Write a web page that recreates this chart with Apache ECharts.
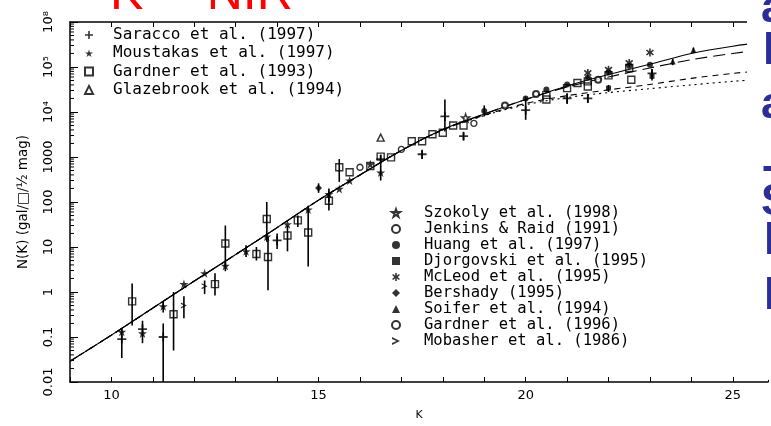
<!DOCTYPE html>
<html>
<head>
<meta charset="utf-8">
<script src="https://cdn.jsdelivr.net/npm/echarts@6/dist/echarts.min.js"></script>
<style>
  html, body { margin: 0; padding: 0; background: #fff; }
  #chart { width: 771px; height: 426px; }
</style>
</head>
<body>
<div id="chart"></div>
<script>
// K grid for the model curves
const modelK = [9, 10, 11, 12, 13, 14, 15, 16, 17, 18, 19, 20, 21, 22, 23, 24, 25, 26];
const modelSolid = [0.029, 0.11, 0.44, 1.75, 6.8, 27, 110, 400, 1400, 4100, 9000, 19000, 38000, 68000, 115000, 200000, 290000, 380000];
const modelLongDash = [0.029, 0.11, 0.44, 1.75, 6.8, 27, 110, 400, 1400, 4100, 9000, 19000, 36000, 60000, 95000, 145000, 200000, 260000];
const modelDash = [0.029, 0.11, 0.44, 1.75, 6.8, 27, 110, 400, 1400, 4000, 8500, 15500, 23000, 31000, 41000, 56000, 72000, 88000];
const modelDot = [0.029, 0.11, 0.44, 1.75, 6.8, 27, 110, 400, 1400, 4000, 8300, 14500, 21000, 27000, 33000, 40000, 48000, 56000];

// survey counts: [K, N, errLow, errHigh]
const saracco = [[10.25, 0.09, 0.034, 0.155], [10.75, 0.15, 0.073, 0.23], [11.25, 0.1, 0.01, 0.2], [14.0, 14, 9, 20],
  [16.5, 900, 700, 1100], [17.5, 1150, 900, 1400], [18.05, 8000, 3700, 19000], [18.5, 2900, 2400, 3500],
  [20.0, 11000, 6700, 22000], [21.0, 20000, 15000, 26000], [21.5, 20000, 16000, 25000], [23.05, 72000, 55000, 90000]];
const moustakas = [[10.25, 0.13, null, null], [10.75, 0.12, null, null], [11.25, 0.48, 0.35, 0.6], [11.75, 1.5, null, null],
  [12.25, 2.6, null, null], [12.75, 3.8, 2.9, 5], [13.25, 8, 6, 11], [13.75, 17, null, null], [14.25, 32, null, null],
  [14.75, 68, null, null], [15.25, 150, 100, 200], [15.5, 195, null, null], [15.75, 300, null, null], [16.25, 690, null, null],
  [16.5, 450, 300, 700]];
const gardner93 = [[10.5, 0.62, 0.18, 1.55], [11.5, 0.32, 0.05, 1.0], [12.5, 1.5, 0.84, 2.6], [12.75, 12, 3.9, 30],
  [13.5, 7, 5, 10], [13.75, 42, 13, 100], [13.78, 6, 1.1, 17], [14.25, 18, 8, 30], [14.5, 39, 28, 50], [14.75, 21, 3.7, 83],
  [15.25, 107, 65, 150], [15.5, 590, 280, 900], [15.75, 460, null, null], [16.25, 630, null, null], [16.5, 1020, null, null],
  [16.75, 980, null, null], [17.25, 2240, null, null], [17.5, 2240, null, null], [17.75, 3200, null, null], [18.0, 3450, null, null],
  [18.25, 5000, null, null], [18.5, 5000, null, null], [20.5, 19000, null, null], [20.5, 24000, null, null],
  [21.0, 34000, null, null], [21.25, 44000, null, null], [21.5, 48000, null, null], [21.5, 37000, null, null],
  [22.0, 65000, null, null], [22.5, 95000, null, null], [22.55, 52000, null, null]];
const glazebrook = [[16.5, 2700, null, null]];
const szokoly = [[18.55, 7400, null, null]];
const jenkins = [[16.0, 590, null, null], [17.0, 1480, null, null], [18.75, 5600, null, null]];
const huang = [[19.0, 10500, 8000, 14000], [20.0, 20000, null, null], [20.5, 31600, null, null], [21.0, 41000, null, null],
  [21.5, 58000, null, null], [22.0, 75000, null, null], [22.5, 105000, null, null], [23.0, 112000, null, null]];
const djorgovski = [[22.0, 34000, 28000, 40000], [23.05, 62000, 50000, 80000]];
const mcleod = [[21.5, 74000, null, null], [22.0, 87000, null, null], [22.5, 123000, null, null], [23.0, 210000, null, null]];
const bershady = [[15.0, 205, 160, 260]];
const soifer = [[23.55, 132000, 110000, 150000], [24.05, 240000, 210000, 270000]];
const gardner96 = [[19.5, 14000, null, null], [20.25, 25000, null, null], [21.75, 52000, null, null]];
const mobasher = [[11.75, 0.5, 0.26, 0.8], [12.25, 1.35, 0.9, 1.8]];

const xTickLabels = [10, 15, 20, 25];
const yTickLabels = ['0.01', '0.1', '1', '10', '100', '1000', '10⁴', '10⁵', '10⁸'];

const FONT = 'DejaVu Sans';
const MONO = 'DejaVu Sans Mono';

const SYM = {
  plus: 'path://M4,0H6V4H10V6H6V10H4V6H0V4H4Z',
  star: 'path://M5,0L6.2,3.6L10,3.6L6.9,5.9L8.1,9.5L5,7.3L1.9,9.5L3.1,5.9L0,3.6L3.8,3.6Z',
  asterisk: 'path://M4,0H6V3.3L8.6,1.1L9.9,2.5L7.2,5L9.9,7.5L8.6,8.9L6,6.7V10H4V6.7L1.4,8.9L0.1,7.5L2.8,5L0.1,2.5L1.4,1.1L4,3.3Z',
  chevron: 'path://M0,0L10,5L0,10L0,7.6L5.6,5L0,2.4Z',
  crossDiamond: 'path://M5,0L10,5L5,10L0,5Z'
};

const hollow = { color: 'rgba(255,255,255,0)', borderColor: '#000', borderWidth: 1.4 };
const solidFill = { color: '#000' };

function scatter(name, data, symbol, size, style) {
  return {
    name: name,
    type: 'scatter',
    data: data.map(p => [p[0], p[1]]),
    symbol: symbol,
    symbolSize: size,
    itemStyle: style,
    z: 3,
    silent: true
  };
}

const surveys = [
  ['Saracco et al. (1997)', saracco, SYM.plus, 9, solidFill],
  ['Moustakas et al. (1997)', moustakas, SYM.star, 9, solidFill],
  ['Gardner et al. (1993)', gardner93, 'rect', 7, hollow],
  ['Glazebrook et al. (1994)', glazebrook, 'triangle', 7, hollow],
  ['Szokoly et al. (1998)', szokoly, SYM.star, 8, hollow],
  ['Jenkins & Raid (1991)', jenkins, 'circle', 6, hollow],
  ['Huang et al. (1997)', huang, 'circle', 6, solidFill],
  ['Djorgovski et al. (1995)', djorgovski, 'rect', 5, solidFill],
  ['McLeod et al. (1995)', mcleod, SYM.asterisk, 8, solidFill],
  ['Bershady (1995)', bershady, SYM.crossDiamond, 7, solidFill],
  ['Soifer et al. (1994)', soifer, 'triangle', 6, solidFill],
  ['Gardner et al. (1996)', gardner96, 'circle', 6, { color: '#fff', borderColor: '#000', borderWidth: 2 }],
  ['Mobasher et al. (1986)', mobasher, SYM.chevron, 6, solidFill]
];

const errData = [];
surveys.forEach(s => s[1].forEach(p => { if (p[2] != null) errData.push([p[0], p[2], p[3]]); }));

const minorTicks = [];
for (let e = -2; e < 6; e++) {
  for (let m = 2; m <= 9; m++) minorTicks.push([9, m * Math.pow(10, e)]);
}

function model(values, type) {
  return {
    type: 'line',
    data: modelK.map((k, i) => [k, values[i]]),
    showSymbol: false,
    smooth: 0.3,
    silent: true,
    lineStyle: { color: '#000', width: 1.1, type: type },
    z: 2
  };
}

const series = [
  model(modelSolid, 'solid'),
  model(modelLongDash, [12, 6]),
  model(modelDash, [6, 5]),
  model(modelDot, [2, 4]),
  {
    type: 'custom',
    silent: true,
    data: errData,
    encode: { x: 0, y: [1, 2] },
    renderItem: function (params, api) {
      const lo = api.coord([api.value(0), api.value(1)]);
      const hi = api.coord([api.value(0), api.value(2)]);
      return { type: 'line', shape: { x1: lo[0], y1: lo[1], x2: hi[0], y2: hi[1] }, style: { stroke: '#000', lineWidth: 1.6 } };
    },
    z: 2
  },
  {
    type: 'custom',
    silent: true,
    data: minorTicks,
    renderItem: function (params, api) {
      const p = api.coord([api.value(0), api.value(1)]);
      return { type: 'line', shape: { x1: p[0], y1: p[1], x2: p[0] + 4, y2: p[1] }, style: { stroke: '#000', lineWidth: 1 } };
    },
    z: 4
  }
].concat(surveys.map(s => scatter(s[0], s[1], s[2], s[3], s[4])));

const legendBase = {
  orient: 'vertical',
  selectedMode: false,
  padding: 0,
  itemWidth: 8,
  itemHeight: 8,
  textStyle: { fontFamily: MONO, color: '#000', lineHeight: 16 }
};

const chart = echarts.init(document.getElementById('chart'), null, { renderer: 'canvas' });
chart.setOption({
  animation: false,
  backgroundColor: '#fff',
  grid: { left: 70, right: 0, top: 22, bottom: 42 },
  xAxis: [{
    type: 'value', min: 9, max: 25.85, interval: 1, position: 'bottom',
    axisLine: { lineStyle: { color: '#000', width: 1.5 } },
    axisTick: { inside: true, length: 5, lineStyle: { color: '#000' } },
    axisLabel: { margin: 7, color: '#000', fontFamily: FONT, fontSize: 13,
      formatter: v => xTickLabels.indexOf(v) >= 0 ? String(v) : '' },
    splitLine: { show: false },
    name: 'K', nameLocation: 'middle', nameGap: 28,
    nameTextStyle: { fontFamily: FONT, fontSize: 11, color: '#000' }
  }, {
    type: 'value', min: 9, max: 25.85, interval: 1, position: 'top',
    axisLine: { lineStyle: { color: '#000', width: 1.5 } },
    axisTick: { inside: true, length: 5, lineStyle: { color: '#000' } },
    axisLabel: { show: false },
    splitLine: { show: false }
  }],
  yAxis: {
    type: 'log', logBase: 10, min: 0.01, max: 1e6, interval: 1, splitNumber: 8,
    axisLine: { show: true, lineStyle: { color: '#000', width: 1.5 } },
    axisTick: { inside: true, length: 8, lineStyle: { color: '#000' } },
    axisLabel: { rotate: 90, margin: 15, color: '#000', fontFamily: FONT, fontSize: 13,
      formatter: v => yTickLabels[Math.round(Math.log10(v)) + 2] },
    splitLine: { show: false },
    name: 'N(K) (gal/□/½ mag)', nameLocation: 'middle', nameRotate: 90, nameGap: 40,
    nameTextStyle: { fontFamily: FONT, fontSize: 13.5, color: '#000' }
  },
  legend: [
    Object.assign({}, legendBase, {
      left: 84, top: 27, itemGap: 2.3,
      textStyle: Object.assign({}, legendBase.textStyle, { fontSize: 16, padding: [0, 0, 0, 15] }),
      data: surveys.slice(0, 4).map(s => s[0])
    }),
    Object.assign({}, legendBase, {
      left: 391, top: 205, itemGap: 0,
      textStyle: Object.assign({}, legendBase.textStyle, { fontSize: 15.5, padding: [0, 0, 0, 19] }),
      data: surveys.slice(4).map(s => s[0])
    })
  ],
  graphic: [
    { type: 'rect', left: 747, top: 0, shape: { width: 24, height: 380 }, style: { fill: '#fff' }, z: 100 },
    { type: 'text', left: 110, top: -30, style: { text: 'K', fill: '#ff0000', font: '50px "Liberation Sans"' }, z: 101 },
    { type: 'text', left: 165, top: -30, style: { text: '– NIR', fill: '#ff0000', font: '50px "Liberation Sans"' }, z: 101 },
    { type: 'text', left: 761, top: -12, style: { text: 'a', fill: '#2b2e96', font: 'bold 44px "Liberation Sans"' }, z: 101 },
    { type: 'text', left: 763, top: 30, style: { text: 'l', fill: '#2b2e96', font: 'bold 44px "Liberation Sans"' }, z: 101 },
    { type: 'text', left: 761, top: 84, style: { text: 'a', fill: '#2b2e96', font: 'bold 44px "Liberation Sans"' }, z: 101 },
    { type: 'text', left: 763, top: 163, style: { text: 'T', fill: '#2b2e96', font: 'bold 44px "Liberation Sans"' }, z: 101 },
    { type: 'text', left: 761, top: 181, style: { text: 'S', fill: '#2b2e96', font: 'bold 44px "Liberation Sans"' }, z: 101 },
    { type: 'text', left: 764, top: 220, style: { text: 'l', fill: '#2b2e96', font: 'bold 44px "Liberation Sans"' }, z: 101 },
    { type: 'text', left: 764, top: 275, style: { text: 'l', fill: '#2b2e96', font: 'bold 44px "Liberation Sans"' }, z: 101 }
  ],
  series: series
});
</script>
</body>
</html>
